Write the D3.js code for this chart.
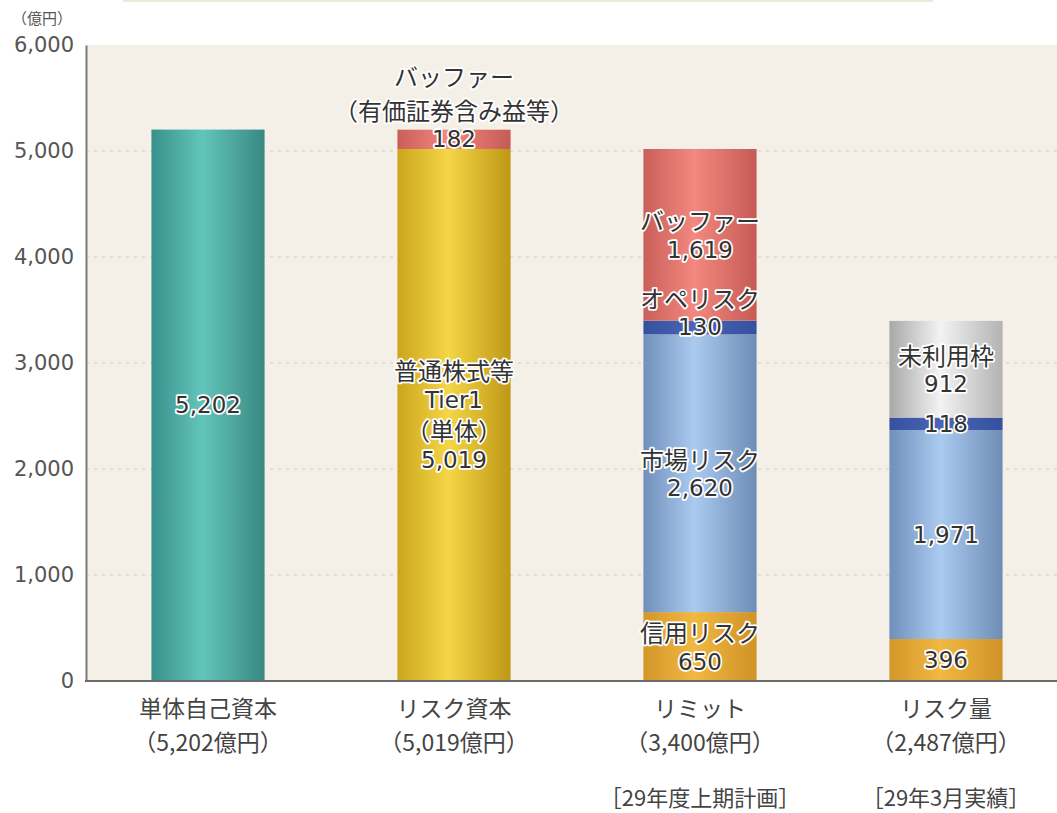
<!DOCTYPE html>
<html>
<head>
<meta charset="utf-8">
<script src="https://cdn.jsdelivr.net/npm/d3@7"></script>
<style>
  body { margin: 0; background: #fff; }
  text { font-family: "Noto Sans CJK JP", "Noto Sans", sans-serif; }
  .num { font-family: "DejaVu Sans", "Noto Sans CJK JP", sans-serif; }
</style>
</head>
<body>
<div id="container"></div>
<script>
// data
var categories = ["単体自己資本", "リスク資本", "リミット", "リスク量"];
var categoryTotals = ["（5,202億円）", "（5,019億円）", "（3,400億円）", "（2,487億円）"];
var categoryNotes = ["", "", "［29年度上期計画］", "［29年3月実績］"];
var yTicks = [0, 1000, 2000, 3000, 4000, 5000, 6000];
var gridTicks = [1000, 2000, 3000, 4000, 5000];

// stacked pieces of each bar, bottom to top
var segmentValues = [
  [5202],
  [5019, 182],
  [650, 2620, 130, 1619],
  [396, 1971, 118, 912]
];
var segmentKinds = [
  ["equity"],
  ["tier1", "buffer"],
  ["credit", "market", "oper", "buffer"],
  ["credit", "market", "oper", "unused"]
];
var segmentNames = [
  [[]],
  [["普通株式等", "Tier1", "（単体）"], ["バッファー", "（有価証券含み益等）"]],
  [["信用リスク"], ["市場リスク"], ["オペリスク"], ["バッファー"]],
  [[], [], [], ["未利用枠"]]
];

// colours: [edge, centre, edge]
var palette = {
  equity: ["#39908a", "#62c5bb", "#398883"],
  tier1:  ["#cba51c", "#f4d646", "#bf9816"],
  buffer: ["#c95f59", "#f2887f", "#c65b56"],
  credit: ["#d39629", "#f1b842", "#cf9226"],
  market: ["#7090bb", "#aacaf0", "#6e8db6"],
  oper:   ["#34509f", "#4a66b4", "#34509f"],
  unused: ["#a8a8a8", "#f3f3f3", "#b3b3b3"]
};

var W = 1057, H = 813;
var plot = { left: 86, top: 45, right: 1057, bottom: 681 };

var svg = d3.select("#container").append("svg")
  .attr("width", W).attr("height", H);

var defs = svg.append("defs");
Object.keys(palette).forEach(function(k) {
  var g = defs.append("linearGradient").attr("id", "g-" + k)
    .attr("x1", 0).attr("x2", 1).attr("y1", 0).attr("y2", 0);
  g.append("stop").attr("offset", "0%").attr("stop-color", palette[k][0]);
  g.append("stop").attr("offset", "45%").attr("stop-color", palette[k][1]);
  g.append("stop").attr("offset", "100%").attr("stop-color", palette[k][2]);
});

var x = d3.scaleBand().domain(categories)
  .range([85, 1069]).paddingInner(0.54).paddingOuter(0.27);
var y = d3.scaleLinear().domain([0, 6000]).range([plot.bottom, plot.top]);

// thin line at very top
svg.append("line").attr("x1", 123).attr("x2", 933).attr("y1", 1).attr("y2", 1)
  .attr("stroke", "#ecebd8").attr("stroke-width", 2);

// plot background
svg.append("rect")
  .attr("x", plot.left).attr("y", plot.top)
  .attr("width", plot.right - plot.left).attr("height", plot.bottom - plot.top)
  .attr("fill", "#f4f0e8");

// grid
svg.append("g").selectAll("line").data(gridTicks).enter().append("line")
  .attr("x1", plot.left).attr("x2", plot.right)
  .attr("y1", function(d) { return y(d); }).attr("y2", function(d) { return y(d); })
  .attr("stroke", "#cfcac2").attr("stroke-width", 1.2)
  .attr("stroke-dasharray", "3,5");

// y axis
var yAxis = d3.axisLeft(y).tickValues(yTicks).tickSize(0).tickPadding(12)
  .tickFormat(d3.format(","));
var ga = svg.append("g").attr("transform", "translate(" + plot.left + ",0)").call(yAxis);
ga.select(".domain").attr("stroke", "#7a7a7a").attr("stroke-width", 2);
ga.selectAll("text").attr("class", "num").attr("font-size", 21).attr("fill", "#555");

svg.append("text").attr("x", 12).attr("y", 17)
  .attr("dominant-baseline", "central")
  .attr("font-size", 15).attr("fill", "#555").text("（億円）");

// bars
var bars = svg.append("g");
categories.forEach(function(cat, i) {
  var base = 0;
  var g = bars.append("g");
  segmentValues[i].forEach(function(v, j) {
    g.append("rect")
      .attr("x", x(cat)).attr("width", x.bandwidth())
      .attr("y", y(base + v)).attr("height", y(base) - y(base + v))
      .attr("fill", "url(#g-" + segmentKinds[i][j] + ")");
    base += v;
  });
});

// baseline
svg.append("line").attr("x1", plot.left - 1).attr("x2", plot.right)
  .attr("y1", plot.bottom).attr("y2", plot.bottom)
  .attr("stroke", "#6a6a6a").attr("stroke-width", 2);

// bar labels
var fmt = d3.format(",");
var labels = svg.append("g");
function isNum(s) { return /^[0-9A-Za-z,]+$/.test(s); }
function gap(a, b) { return (!isNum(a) && !isNum(b)) ? 34 : 30; }
function label(tx, ty, s) {
  labels.append("text")
    .attr("class", isNum(s) ? "num" : null)
    .attr("x", tx).attr("y", ty)
    .attr("text-anchor", "middle").attr("dominant-baseline", "central")
    .attr("font-size", isNum(s) ? 23 : 24)
    .attr("fill", "#333")
    .attr("stroke", "#fff").attr("stroke-width", 3.5)
    .attr("stroke-linejoin", "round").attr("paint-order", "stroke")
    .text(s);
}
categories.forEach(function(cat, i) {
  var cx = x(cat) + x.bandwidth() / 2;
  var base = 0;
  segmentValues[i].forEach(function(v, j) {
    var mid = y(base + v / 2);
    var lines = segmentNames[i][j].concat([fmt(v)]);
    // offsets of each line from the first
    var offs = [0];
    for (var k = 1; k < lines.length; k++) offs.push(offs[k - 1] + gap(lines[k - 1], lines[k]));
    var total = offs[offs.length - 1];
    // thin piece: value on the piece, names stacked above it
    var firstY = v < 300 ? mid - total : mid - total / 2;
    lines.forEach(function(s, k) { label(cx, firstY + offs[k], s); });
    base += v;
  });
});

// category labels
var cl = svg.append("g").attr("fill", "#444").attr("text-anchor", "middle")
  .attr("font-size", 23);
categories.forEach(function(cat, i) {
  var cx = x(cat) + x.bandwidth() / 2;
  cl.append("text").attr("x", cx).attr("y", 707).attr("dominant-baseline", "central").text(cat);
  cl.append("text").attr("x", cx).attr("y", 741).attr("dominant-baseline", "central").text(categoryTotals[i]);
  if (categoryNotes[i]) {
    cl.append("text").attr("x", cx).attr("y", 796).attr("dominant-baseline", "central")
      .attr("font-size", 22).text(categoryNotes[i]);
  }
});
</script>
</body>
</html>
